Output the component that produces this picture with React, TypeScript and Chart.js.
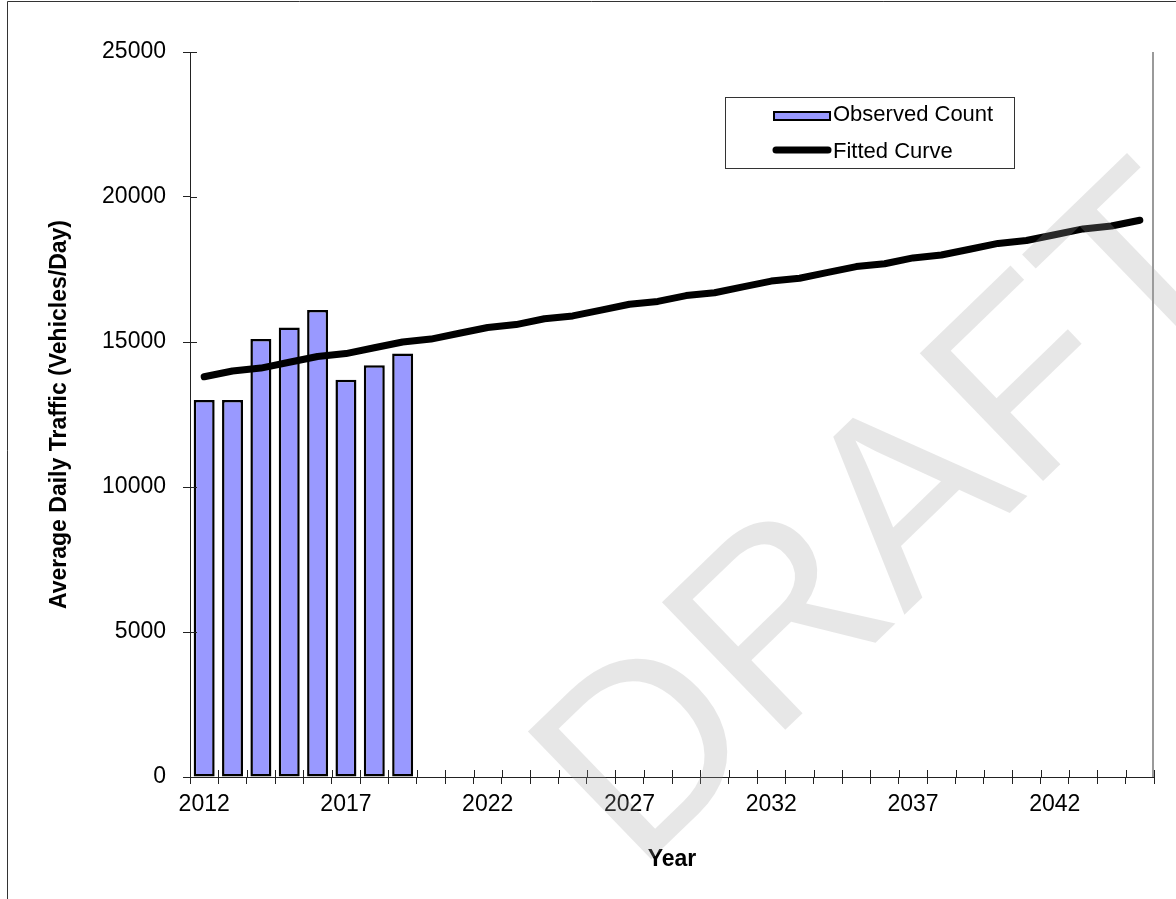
import { useEffect, useRef } from 'react';
import { Chart, registerables } from 'chart.js';

Chart.register(...registerables);

// Categories: one per year on the horizontal axis
const years = [
  '2012', '2013', '2014', '2015', '2016', '2017', '2018', '2019', '2020', '2021',
  '2022', '2023', '2024', '2025', '2026', '2027', '2028', '2029', '2030', '2031',
  '2032', '2033', '2034', '2035', '2036', '2037', '2038', '2039', '2040', '2041',
  '2042', '2043', '2044', '2045',
];

// Years that carry a printed label under the axis
const labelledYears = ['2012', '2017', '2022', '2027', '2032', '2037', '2042'];

// Observed average daily traffic counts (2012-2019)
const observedCount = [13000, 13000, 15100, 15500, 16100, 13700, 14200, 14600];

// Fitted growth curve (2012-2045)
const fittedCurve = [
  13800, 14000, 14100, 14300, 14500, 14600, 14800, 15000, 15100, 15300,
  15500, 15600, 15800, 15900, 16100, 16300, 16400, 16600, 16700, 16900,
  17100, 17200, 17400, 17600, 17700, 17900, 18000, 18200, 18400, 18500,
  18700, 18900, 19000, 19200,
];

const yTickValues = [0, 5000, 10000, 15000, 20000, 25000];

const seriesNames = ['Observed Count', 'Fitted Curve'];
const yTitle = 'Average Daily Traffic (Vehicles/Day)';
const xTitle = 'Year';
const watermarkText = 'DRAFT';

const FONT = '"Liberation Sans", Arial, sans-serif';
const BAR_FILL = '#9999ff';
const INK = '#000000';
const AXIS = '#222222';

const decorations = {
  id: 'decorations',
  beforeDraw(chart: any) {
    const { ctx, width, height } = chart;
    ctx.save();
    ctx.fillStyle = '#ffffff';
    ctx.fillRect(0, 0, width, height);
    // outer frame (left and top edges)
    ctx.strokeStyle = '#333333';
    ctx.lineWidth = 1;
    ctx.beginPath();
    ctx.moveTo(7.5, height);
    ctx.lineTo(7.5, 1.5);
    ctx.lineTo(width, 1.5);
    ctx.stroke();
    ctx.restore();
  },
  afterDraw(chart: any) {
    const { ctx, chartArea: a, scales } = chart;
    const xs = scales.x;
    const ys = scales.y;
    ctx.save();

    // right edge of the plot
    ctx.strokeStyle = '#9a9a9a';
    ctx.lineWidth = 2;
    ctx.beginPath();
    ctx.moveTo(a.right - 1, a.top);
    ctx.lineTo(a.right - 1, a.bottom);
    ctx.stroke();

    // inner halves of the tick marks so they cross the axes
    ctx.strokeStyle = AXIS;
    ctx.lineWidth = 1;
    ctx.beginPath();
    const step = xs.getPixelForValue(1) - xs.getPixelForValue(0);
    const first = xs.getPixelForValue(0) - step / 2;
    for (let i = 0; i <= years.length; i++) {
      const px = Math.round(first + i * step) + 0.5;
      ctx.moveTo(px, a.bottom - 7);
      ctx.lineTo(px, a.bottom);
    }
    for (const t of ys.ticks) {
      const py = Math.round(ys.getPixelForValue(t.value)) + 0.5;
      ctx.moveTo(a.left, py);
      ctx.lineTo(a.left + 7, py);
    }
    ctx.stroke();

    // axis titles
    ctx.fillStyle = INK;
    ctx.font = `bold 23px ${FONT}`;
    ctx.textAlign = 'center';
    ctx.textBaseline = 'alphabetic';
    ctx.fillText(xTitle, (a.left + a.right) / 2, a.bottom + 89);
    ctx.save();
    ctx.translate(66, (a.top + a.bottom) / 2);
    ctx.rotate(-Math.PI / 2);
    ctx.fillText(yTitle, 0, 0);
    ctx.restore();

    // legend box
    const lx = a.left + 535;
    const ly = a.top + 45;
    ctx.strokeStyle = '#333333';
    ctx.lineWidth = 1;
    ctx.strokeRect(lx + 0.5, ly + 0.5, 289, 71);
    const bars = chart.data.datasets[0];
    const line = chart.data.datasets[1];
    // bar swatch
    ctx.fillStyle = bars.backgroundColor;
    ctx.fillRect(lx + 49, ly + 15, 56, 8);
    ctx.strokeStyle = bars.borderColor;
    ctx.lineWidth = 2;
    ctx.strokeRect(lx + 49, ly + 15, 56, 8);
    // line swatch
    ctx.strokeStyle = line.borderColor;
    ctx.lineWidth = 7;
    ctx.lineCap = 'round';
    ctx.beginPath();
    ctx.moveTo(lx + 51, ly + 53);
    ctx.lineTo(lx + 103, ly + 53);
    ctx.stroke();
    ctx.fillStyle = INK;
    ctx.font = `22px ${FONT}`;
    ctx.textAlign = 'left';
    ctx.textBaseline = 'middle';
    ctx.fillText(bars.label, lx + 108, ly + 18);
    ctx.fillText(line.label, lx + 108, ly + 55);

    // watermark over everything
    ctx.save();
    ctx.translate(636, 874);
    ctx.rotate((-44 * Math.PI) / 180);
    ctx.font = `258px ${FONT}`;
    ctx.fillStyle = 'rgba(160,160,160,0.25)';
    ctx.textAlign = 'left';
    ctx.textBaseline = 'alphabetic';
    ctx.fillText(watermarkText, 0, 0);
    ctx.restore();

    ctx.restore();
  },
};

export default function App() {
  const ref = useRef<HTMLCanvasElement>(null);

  useEffect(() => {
    if (!ref.current) return;
    const chart = new Chart(ref.current, {
      type: 'bar',
      data: {
        labels: years,
        datasets: [
          {
            type: 'bar',
            label: seriesNames[0],
            data: observedCount,
            backgroundColor: BAR_FILL,
            borderColor: INK,
            borderWidth: 2.5,
            borderSkipped: false,
            barPercentage: 0.74,
            categoryPercentage: 1,
            order: 2,
          },
          {
            type: 'line',
            label: seriesNames[1],
            data: fittedCurve,
            borderColor: INK,
            backgroundColor: INK,
            borderWidth: 7,
            pointRadius: 0,
            tension: 0,
            borderCapStyle: 'round',
            borderJoinStyle: 'round',
            fill: false,
            order: 1,
          },
        ] as any,
      },
      options: {
        responsive: false,
        animation: false,
        devicePixelRatio: 1,
        events: [],
        layout: { padding: { left: 0, top: 52, right: 22, bottom: 0 } },
        plugins: {
          legend: { display: false },
          tooltip: { enabled: false },
        },
        scales: {
          x: {
            type: 'category',
            offset: true,
            grid: {
              display: true,
              offset: true,
              drawOnChartArea: false,
              drawTicks: true,
              tickLength: 7,
              color: AXIS,
              lineWidth: 1,
            },
            border: { display: true, color: AXIS, width: 1 },
            ticks: {
              autoSkip: false,
              maxRotation: 0,
              minRotation: 0,
              padding: 7,
              color: INK,
              font: { family: FONT, size: 23 },
              callback: (_v: any, i: number) =>
                labelledYears.includes(years[i]) ? years[i] : '',
            },
            afterFit: (s: any) => {
              s.height = 122;
            },
          },
          y: {
            min: 0,
            max: 25000,
            grid: {
              display: true,
              drawOnChartArea: false,
              drawTicks: true,
              tickLength: 7,
              color: AXIS,
              lineWidth: 1,
            },
            border: { display: true, color: AXIS, width: 1 },
            ticks: {
              padding: 17,
              color: INK,
              font: { family: FONT, size: 23 },
              callback: (v: any) => String(v),
            },
            afterBuildTicks: (s: any) => {
              s.ticks = yTickValues.map((v) => ({ value: v }));
            },
            afterFit: (s: any) => {
              s.width = 190;
            },
          },
        },
      } as any,
      plugins: [decorations],
    });
    return () => chart.destroy();
  }, []);

  return (
    <div style={{ position: 'fixed', left: 0, top: 0, width: 1176, height: 899, background: '#fff' }}>
      <canvas ref={ref} width={1176} height={899} style={{ display: 'block', width: 1176, height: 899 }} />
    </div>
  );
}
